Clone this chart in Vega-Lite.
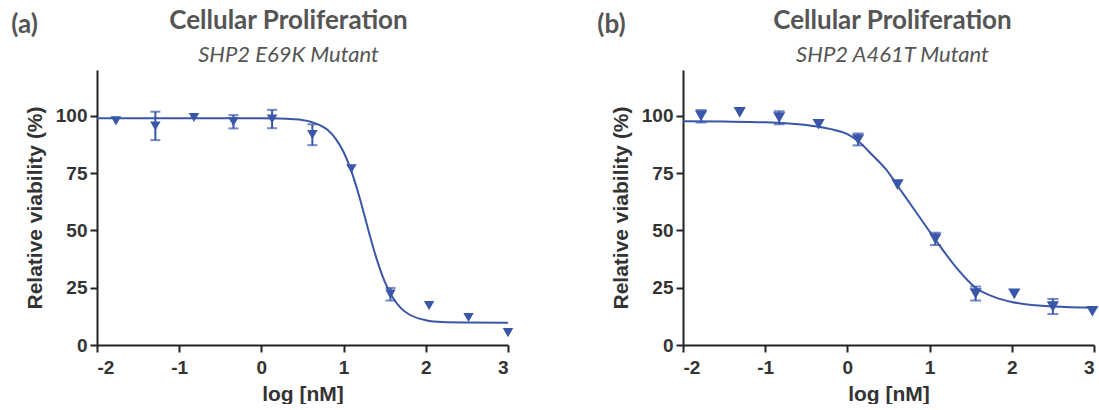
{
  "$schema": "https://vega.github.io/schema/vega-lite/v6.json",
  "background": "white",
  "padding": {"left": 11, "top": 8, "right": 0, "bottom": 0},
  "spacing": 83,
  "datasets": {
    "curveA": [
      {"logc": -2, "viab": 99.0}, {"logc": -1, "viab": 99.0}, {"logc": 0, "viab": 98.9},
      {"logc": 0.4, "viab": 98.5}, {"logc": 0.6, "viab": 97.4}, {"logc": 0.8, "viab": 94.0},
      {"logc": 0.9, "viab": 90.2}, {"logc": 1.0, "viab": 84.2}, {"logc": 1.1, "viab": 75.3},
      {"logc": 1.2, "viab": 63.6}, {"logc": 1.3, "viab": 50.3}, {"logc": 1.4, "viab": 37.8},
      {"logc": 1.5, "viab": 27.7}, {"logc": 1.6, "viab": 20.6}, {"logc": 1.7, "viab": 16.0},
      {"logc": 1.8, "viab": 13.3}, {"logc": 2.0, "viab": 10.8}, {"logc": 2.2, "viab": 10.0},
      {"logc": 2.5, "viab": 9.8}, {"logc": 3.0, "viab": 9.7}
    ],
    "pointsA": [
      {"logc": -1.77, "viab": 97.8},
      {"logc": -1.29, "viab": 95.6, "lo": 89.4, "hi": 101.8},
      {"logc": -0.82, "viab": 99.3},
      {"logc": -0.34, "viab": 97.4, "lo": 94.5, "hi": 100.3},
      {"logc": 0.13, "viab": 98.6, "lo": 94.6, "hi": 102.6},
      {"logc": 0.62, "viab": 91.8, "lo": 87.2, "hi": 96.3},
      {"logc": 1.095, "viab": 76.9},
      {"logc": 1.57, "viab": 22.2, "lo": 19.4, "hi": 24.9},
      {"logc": 2.04, "viab": 17.2},
      {"logc": 2.52, "viab": 12.0},
      {"logc": 3.0, "viab": 5.4}
    ],
    "curveB": [
      {"logc": -2, "viab": 97.6}, {"logc": -1.5, "viab": 97.5}, {"logc": -1, "viab": 97.2},
      {"logc": -0.5, "viab": 96.0}, {"logc": -0.2, "viab": 94.2}, {"logc": 0, "viab": 92.0},
      {"logc": 0.13, "viab": 89.0}, {"logc": 0.3, "viab": 83.0}, {"logc": 0.47, "viab": 76.6},
      {"logc": 0.61, "viab": 69.5}, {"logc": 0.8, "viab": 59.8}, {"logc": 1.08, "viab": 45.5},
      {"logc": 1.32, "viab": 34.0}, {"logc": 1.56, "viab": 25.0}, {"logc": 1.8, "viab": 20.8},
      {"logc": 2.0, "viab": 18.8}, {"logc": 2.5, "viab": 16.8}, {"logc": 3.0, "viab": 16.3}
    ],
    "pointsB": [
      {"logc": -1.78, "viab": 100.0, "lo": 97.1, "hi": 102.5},
      {"logc": -1.31, "viab": 101.5},
      {"logc": -0.83, "viab": 99.3, "lo": 96.3, "hi": 102.0},
      {"logc": -0.35, "viab": 96.3},
      {"logc": 0.13, "viab": 89.7, "lo": 87.1, "hi": 92.3},
      {"logc": 0.61, "viab": 70.0},
      {"logc": 1.07, "viab": 46.3, "lo": 43.6, "hi": 49.0},
      {"logc": 1.56, "viab": 22.5, "lo": 19.4, "hi": 25.5},
      {"logc": 2.03, "viab": 22.3},
      {"logc": 2.50, "viab": 16.8, "lo": 13.5, "hi": 20.1},
      {"logc": 2.98, "viab": 14.7}
    ]
  },
  "hconcat": [
    {
      "title": {"text": "(a)", "anchor": "start", "frame": "bounds", "fontSize": 26, "font": "Lato", "fontWeight": "bold", "color": "#555555", "dy": 34, "dx": -13},
      "vconcat": [
        {
          "width": 411,
          "height": 275,
          "title": {"text": "Cellular Proliferation", "subtitle": "SHP2 E69K Mutant", "anchor": "middle", "frame": "group", "dx": -14},
          "encoding": {
            "x": {"field": "logc", "type": "quantitative", "scale": {"domain": [-2, 3], "nice": false, "zero": false}, "axis": {"title": "log [nM]", "values": [-2, -1, 0, 1, 2, 3], "labelExpr": "'' + datum.value"}},
            "y": {"field": "viab", "type": "quantitative", "scale": {"domain": [0, 120], "nice": false}, "axis": {"title": "Relative viability (%)", "values": [0, 25, 50, 75, 100]}}
          },
          "layer": [
            {"data": {"name": "curveA"}, "mark": {"type": "line", "interpolate": "monotone", "color": "#3a56a8", "strokeWidth": 2}},
            {"data": {"name": "pointsA"}, "transform": [{"filter": "isValid(datum.lo)"}], "mark": {"type": "errorbar", "color": "#3a56a8", "thickness": 2, "ticks": {"size": 10, "thickness": 2, "color": "#3a56a8"}}, "encoding": {"y": {"field": "lo", "type": "quantitative"}, "y2": {"field": "hi"}}},
            {"data": {"name": "pointsA"}, "mark": {"type": "point", "shape": "triangle-down", "filled": true, "size": 110, "color": "#3a56a8", "opacity": 1}}
          ]
        }
      ]
    },
    {
      "title": {"text": "(b)", "anchor": "start", "frame": "bounds", "fontSize": 26, "font": "Lato", "fontWeight": "bold", "color": "#555555", "dy": 34, "dx": -13},
      "vconcat": [
        {
          "width": 411,
          "height": 275,
          "title": {"text": "Cellular Proliferation", "subtitle": "SHP2 A461T Mutant", "anchor": "middle", "frame": "group", "dx": 4},
          "encoding": {
            "x": {"field": "logc", "type": "quantitative", "scale": {"domain": [-2, 3], "nice": false, "zero": false}, "axis": {"title": "log [nM]", "values": [-2, -1, 0, 1, 2, 3], "labelExpr": "'' + datum.value"}},
            "y": {"field": "viab", "type": "quantitative", "scale": {"domain": [0, 120], "nice": false}, "axis": {"title": "Relative viability (%)", "values": [0, 25, 50, 75, 100]}}
          },
          "layer": [
            {"data": {"name": "curveB"}, "mark": {"type": "line", "interpolate": "monotone", "color": "#3a56a8", "strokeWidth": 2}},
            {"data": {"name": "pointsB"}, "transform": [{"filter": "isValid(datum.lo)"}], "mark": {"type": "errorbar", "color": "#3a56a8", "thickness": 2, "ticks": {"size": 11, "thickness": 2, "color": "#3a56a8"}}, "encoding": {"y": {"field": "lo", "type": "quantitative"}, "y2": {"field": "hi"}}},
            {"data": {"name": "pointsB"}, "mark": {"type": "point", "shape": "triangle-down", "filled": true, "size": 150, "color": "#3a56a8", "opacity": 1}}
          ]
        }
      ]
    }
  ],
  "config": {
    "view": {"stroke": null},
    "axis": {
      "grid": false,
      "domainColor": "#222222",
      "domainWidth": 2,
      "tickColor": "#222222",
      "tickWidth": 2,
      "tickSize": 7,
      "labelFont": "Liberation Sans",
      "labelFontWeight": "bold",
      "labelFontSize": 19,
      "labelColor": "#333333",
      "titleFont": "Liberation Sans",
      "titleFontWeight": "bold",
      "titleFontSize": 21,
      "titleColor": "#333333"
    },
    "axisX": {"titlePadding": 6, "labelPadding": 6},
    "axisY": {"titlePadding": 10, "labelPadding": 3},
    "title": {
      "font": "Lato",
      "fontSize": 26,
      "fontWeight": "bold",
      "color": "#555555",
      "subtitleFont": "Lato",
      "subtitleFontSize": 22,
      "subtitleFontStyle": "italic",
      "subtitleColor": "#555555",
      "subtitlePadding": 11,
      "offset": 0
    }
  }
}
